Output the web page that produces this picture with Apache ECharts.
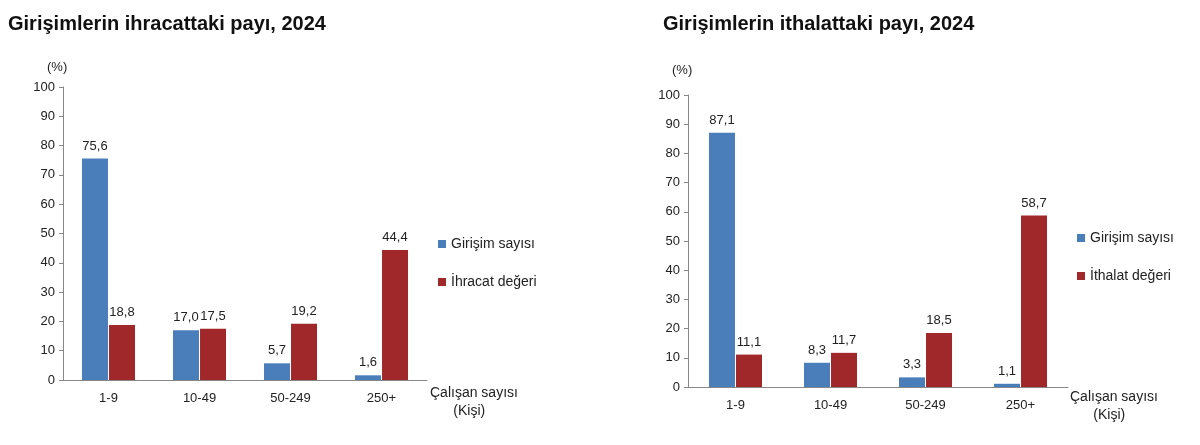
<!DOCTYPE html>
<html><head><meta charset="utf-8">
<script src="https://cdn.jsdelivr.net/npm/echarts@6/dist/echarts.min.js"></script>
<style>html,body{margin:0;background:#fff}#c{width:1200px;height:445px}</style>
</head><body><div id="c"></div>
<script>
const categories = ['1-9','10-49','50-249','250+'];
const exportFirms = [75.6, 17.0, 5.7, 1.6];
const exportValue = [18.8, 17.5, 19.2, 44.4];
const importFirms = [87.1, 8.3, 3.3, 1.1];
const importValue = [11.1, 11.7, 18.5, 58.7];
const yTicks = [0,10,20,30,40,50,60,70,80,90,100];

const BLUE = '#4A7EBB', RED = '#A0282A';
const fmt = p => p.value.toFixed(1).replace('.', ',');
const font = 'Arial, "Liberation Sans", sans-serif';
const chart = echarts.init(document.getElementById('c'));
function xAx(g){return {type:'category',gridIndex:g,data:categories,axisTick:{show:false},
  axisLine:{lineStyle:{color:'#888'}},axisLabel:{color:'#222',fontSize:13,fontFamily:font,margin:12}};}
function yAx(g){return {type:'value',gridIndex:g,min:0,max:100,interval:10,
  axisLine:{show:true,lineStyle:{color:'#888'}},axisTick:{show:true,length:4,lineStyle:{color:'#888'}},
  splitLine:{show:false},axisLabel:{color:'#222',fontSize:13,fontFamily:font,margin:8}};}
function bar(name,data,color,g){return {type:'bar',name,data,xAxisIndex:g,yAxisIndex:g,barWidth:26,barGap:'4%',
  itemStyle:{color},label:{show:true,position:'top',formatter:fmt,color:'#222',fontSize:13,fontFamily:font,distance:6}};}
chart.setOption({
  animation:false,
  grid:[{left:63,top:87,width:364,height:293},{left:688,top:95,width:380,height:292}],
  xAxis:[xAx(0),xAx(1)], yAxis:[yAx(0),yAx(1)],
  legend:[
    {data:['Girişim sayısı','İhracat değeri'],orient:'vertical',left:433,top:232,itemWidth:8,itemHeight:8,itemGap:24,icon:'rect',textStyle:{fontSize:14,color:'#222',fontFamily:font}},
    {data:['Girişim sayısı ','İthalat değeri'],orient:'vertical',left:1072,top:226,itemWidth:8,itemHeight:8,itemGap:24,icon:'rect',textStyle:{fontSize:14,color:'#222',fontFamily:font}}
  ],
  series:[bar('Girişim sayısı',exportFirms,BLUE,0),bar('İhracat değeri',exportValue,RED,0),
          bar('Girişim sayısı ',importFirms,BLUE,1),bar('İthalat değeri',importValue,RED,1)],
  graphic:[
    {type:'text',left:8,top:14,style:{text:'Girişimlerin ihracattaki payı, 2024',font:'bold 20px '+font,fill:'#111'}},
    {type:'text',left:663,top:14,style:{text:'Girişimlerin ithalattaki payı, 2024',font:'bold 20px '+font,fill:'#111'}},
    {type:'text',left:47,top:61,style:{text:'(%)',font:'13px '+font,fill:'#222'}},
    {type:'text',left:672,top:64,style:{text:'(%)',font:'13px '+font,fill:'#222'}},
    {type:'text',left:430,top:384,style:{text:'Çalışan sayısı\n      (Kişi)',font:'14px '+font,fill:'#222',lineHeight:18}},
    {type:'text',left:1070,top:388,style:{text:'Çalışan sayısı\n      (Kişi)',font:'14px '+font,fill:'#222',lineHeight:18}}
  ]
});
</script></body></html>
